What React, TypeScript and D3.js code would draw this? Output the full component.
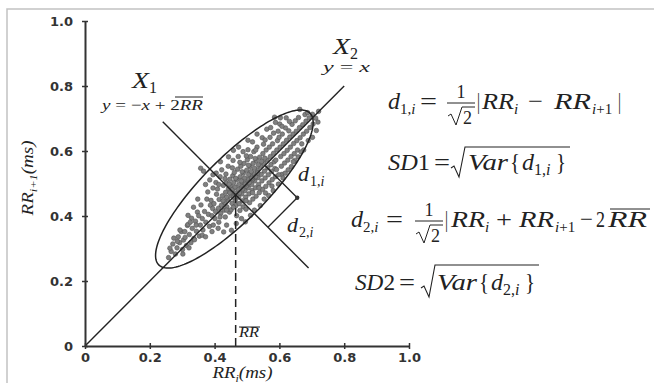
import React, { useEffect, useRef } from 'react';
import * as d3 from 'd3';

const W = 654;
const H = 383;

const xTicks = [0, 0.2, 0.4, 0.6, 0.8, 1.0];
const yTicks = [0, 0.2, 0.4, 0.6, 0.8, 1.0];

const rrMean = 0.465; // mean RR, where X1 and X2 cross
const ellipseCenter = [0.461, 0.483];
const sd1 = 0.097; // half-width across the identity line
const sd2 = 0.33; // half-length along the identity line
const x1Extent = [0.24, 0.69]; // RR_i extent of the X1 segment
const x2Extent = [0, 0.8]; // RR_i extent of the X2 segment
const samplePoint = [0.655, 0.456]; // point used for d1,i / d2,i

// [RR_i, RR_i+1]
const points: [number, number][] = [
  // lower tail
  [0.258, 0.272], [0.266, 0.291], [0.271, 0.314], [0.279, 0.283], [0.284, 0.302], [0.292, 0.318],
  [0.288, 0.336], [0.301, 0.297], [0.304, 0.326], [0.297, 0.352], [0.313, 0.309], [0.309, 0.334],
  [0.316, 0.371], [0.322, 0.343], [0.327, 0.318], [0.331, 0.362], [0.336, 0.331], [0.329, 0.393],
  [0.344, 0.353], [0.341, 0.384], [0.347, 0.412], [0.353, 0.338], [0.356, 0.372], [0.351, 0.401],
  [0.364, 0.357], [0.362, 0.392], [0.358, 0.434], [0.373, 0.381], [0.369, 0.414], [0.376, 0.452],
  [0.384, 0.368], [0.381, 0.405], [0.387, 0.433], [0.379, 0.474], [0.274, 0.332], [0.293, 0.357],
  [0.318, 0.374], [0.302, 0.283], [0.321, 0.302], [0.338, 0.327], [0.362, 0.341], [0.357, 0.547],
  [0.366, 0.538], [0.308, 0.352], [0.325, 0.381], [0.343, 0.372], [0.285, 0.322], [0.262, 0.301],
  [0.348, 0.452], [0.335, 0.427], [0.318, 0.402], [0.372, 0.336], [0.392, 0.352],
  // middle
  [0.392, 0.401], [0.394, 0.423], [0.389, 0.448], [0.396, 0.372], [0.403, 0.414], [0.398, 0.438],
  [0.406, 0.467], [0.401, 0.392], [0.404, 0.503], [0.412, 0.424], [0.414, 0.451], [0.409, 0.483],
  [0.413, 0.381], [0.417, 0.521], [0.421, 0.433], [0.424, 0.462], [0.419, 0.408], [0.427, 0.494],
  [0.422, 0.542], [0.432, 0.441], [0.434, 0.473], [0.429, 0.418], [0.436, 0.502], [0.433, 0.397],
  [0.441, 0.452], [0.443, 0.484], [0.438, 0.428], [0.447, 0.513], [0.442, 0.553], [0.446, 0.412],
  [0.452, 0.463], [0.454, 0.439], [0.449, 0.492], [0.456, 0.524], [0.451, 0.419], [0.457, 0.571],
  [0.462, 0.471], [0.464, 0.448], [0.459, 0.503], [0.466, 0.432], [0.461, 0.534], [0.468, 0.401],
  [0.472, 0.482], [0.474, 0.458], [0.469, 0.512], [0.476, 0.438], [0.471, 0.544], [0.478, 0.417],
  [0.473, 0.583], [0.482, 0.493], [0.484, 0.468], [0.479, 0.521], [0.486, 0.447], [0.481, 0.553],
  [0.488, 0.428], [0.492, 0.502], [0.494, 0.478], [0.489, 0.532], [0.496, 0.458], [0.491, 0.562],
  [0.497, 0.421], [0.502, 0.513], [0.504, 0.487], [0.499, 0.541], [0.506, 0.468], [0.501, 0.573],
  [0.508, 0.441], [0.503, 0.604], [0.512, 0.522], [0.514, 0.497], [0.509, 0.552], [0.516, 0.478],
  [0.518, 0.452], [0.511, 0.583], [0.522, 0.531], [0.524, 0.508], [0.519, 0.562], [0.526, 0.487],
  [0.528, 0.461], [0.521, 0.598], [0.532, 0.542], [0.534, 0.518], [0.529, 0.571], [0.536, 0.497],
  [0.538, 0.472], [0.531, 0.612], [0.542, 0.553], [0.544, 0.528], [0.539, 0.581], [0.546, 0.508],
  [0.548, 0.482], [0.552, 0.562], [0.554, 0.538], [0.549, 0.592], [0.556, 0.517], [0.551, 0.621],
  [0.558, 0.491], [0.562, 0.572], [0.564, 0.548], [0.559, 0.603], [0.566, 0.527], [0.568, 0.502],
  [0.572, 0.583], [0.574, 0.558], [0.569, 0.612], [0.576, 0.537], [0.571, 0.642], [0.578, 0.512],
  [0.582, 0.593], [0.584, 0.567], [0.579, 0.622], [0.586, 0.546], [0.588, 0.521],
  // middle, towards the ellipse edge
  [0.405, 0.532], [0.418, 0.567], [0.428, 0.351], [0.437, 0.372], [0.443, 0.582], [0.452, 0.356],
  [0.458, 0.602], [0.467, 0.377], [0.474, 0.612], [0.483, 0.392], [0.488, 0.598], [0.495, 0.382],
  [0.503, 0.633], [0.511, 0.402], [0.517, 0.628], [0.523, 0.418], [0.531, 0.652], [0.541, 0.432],
  [0.547, 0.641], [0.553, 0.452], [0.561, 0.667], [0.567, 0.463], [0.573, 0.672], [0.581, 0.478],
  [0.588, 0.688], [0.597, 0.498], [0.372, 0.497], [0.385, 0.511], [0.395, 0.527], [0.411, 0.362],
  [0.435, 0.529], [0.455, 0.548], [0.478, 0.565], [0.498, 0.585], [0.527, 0.603], [0.556, 0.634],
  [0.582, 0.655], [0.417, 0.397], [0.437, 0.418], [0.458, 0.427], [0.497, 0.447], [0.517, 0.472],
  [0.537, 0.487], [0.557, 0.471], [0.577, 0.492], [0.395, 0.486], [0.413, 0.497], [0.432, 0.515],
  // dense core
  [0.447, 0.471], [0.455, 0.482], [0.463, 0.489], [0.468, 0.462], [0.475, 0.497], [0.483, 0.508],
  [0.487, 0.483], [0.493, 0.517], [0.498, 0.492], [0.505, 0.528], [0.507, 0.503], [0.513, 0.537],
  [0.517, 0.512], [0.523, 0.547], [0.527, 0.521], [0.458, 0.458], [0.477, 0.471], [0.495, 0.498],
  [0.515, 0.516], [0.533, 0.533], [0.437, 0.458], [0.426, 0.447], [0.485, 0.536], [0.505, 0.556],
  [0.525, 0.577], [0.465, 0.516], [0.445, 0.498], [0.535, 0.558], [0.545, 0.568], [0.555, 0.578],
  // upper
  [0.592, 0.603], [0.594, 0.632], [0.589, 0.572], [0.596, 0.661], [0.591, 0.543], [0.602, 0.612],
  [0.604, 0.583], [0.599, 0.642], [0.606, 0.553], [0.601, 0.683], [0.612, 0.622], [0.614, 0.592],
  [0.609, 0.652], [0.616, 0.563], [0.622, 0.633], [0.624, 0.602], [0.619, 0.671], [0.626, 0.572],
  [0.621, 0.702], [0.632, 0.643], [0.634, 0.612], [0.629, 0.662], [0.636, 0.583], [0.642, 0.652],
  [0.644, 0.623], [0.639, 0.682], [0.646, 0.592], [0.652, 0.661], [0.654, 0.632], [0.649, 0.693],
  [0.656, 0.603], [0.662, 0.672], [0.664, 0.641], [0.659, 0.703], [0.672, 0.681], [0.674, 0.652],
  [0.669, 0.622], [0.682, 0.692], [0.684, 0.661], [0.679, 0.712], [0.692, 0.702], [0.694, 0.672],
  [0.702, 0.713], [0.704, 0.683], [0.712, 0.701], [0.714, 0.663], [0.721, 0.722], [0.719, 0.689],
  [0.585, 0.704], [0.663, 0.728], [0.702, 0.642], [0.608, 0.528], [0.627, 0.542], [0.687, 0.718],
  [0.603, 0.702], [0.611, 0.517], [0.618, 0.532], [0.637, 0.552], [0.648, 0.571], [0.658, 0.582],
  [0.675, 0.603], [0.689, 0.632], [0.608, 0.676], [0.631, 0.691], [0.598, 0.527], [0.643, 0.567],
  [0.667, 0.597],
];

const serif = "'Liberation Serif', 'Times New Roman', serif";
const ink = '#222';

// one piece of a formula; w stretches the glyphs to the width seen in the figure
const P = ({ x, y, w, size = 24, it = false, anchor = 'start', children }: any) => (
  <text
    x={x}
    y={y}
    fontSize={size}
    fontStyle={it ? 'italic' : 'normal'}
    textAnchor={anchor}
    textLength={w}
    lengthAdjust={w ? 'spacingAndGlyphs' : undefined}
  >
    {children}
  </text>
);

// subscript like "1,i" or "i+1"
const Sub = ({ x, y, size = 15, children }: any) => (
  <text x={x} y={y} fontSize={size}>{children}</text>
);
const I = ({ children }: any) => <tspan fontStyle="italic">{children}</tspan>;

const radical = (x0: number, top: number, bot: number, end: number) =>
  `M${x0},${bot - 9} L${x0 + 3},${bot - 11} L${x0 + 8},${bot} L${x0 + 14},${top} L${end},${top}`;

export default function App() {
  const gRef = useRef<SVGGElement>(null);

  useEffect(() => {
    if (!gRef.current) return;
    const g = d3.select(gRef.current);
    g.selectAll('*').remove();

    const x = d3.scaleLinear().domain([0, 1]).range([85, 409]);
    const y = d3.scaleLinear().domain([0, 1]).range([346, 21]);
    const fmt = (d: any) => (d === 0 ? '0' : d3.format('.1f')(d));

    // scatter
    g.append('g')
      .selectAll('circle')
      .data(points)
      .enter()
      .append('circle')
      .attr('cx', d => x(d[0]))
      .attr('cy', d => y(d[1]))
      .attr('r', 2.3)
      .attr('fill', '#808080')
      .attr('stroke', '#505050')
      .attr('stroke-width', 0.6);

    // mean RR, dashed
    g.append('line')
      .attr('x1', x(rrMean)).attr('x2', x(rrMean))
      .attr('y1', y(0)).attr('y2', y(rrMean))
      .attr('stroke', ink).attr('stroke-width', 1.5)
      .attr('stroke-dasharray', '8,5');

    // X2 : y = x
    g.append('line')
      .attr('x1', x(x2Extent[0])).attr('y1', y(x2Extent[0]))
      .attr('x2', x(x2Extent[1])).attr('y2', y(x2Extent[1]))
      .attr('stroke', ink).attr('stroke-width', 1.4);

    // X1 : y = -x + 2 mean
    g.append('line')
      .attr('x1', x(x1Extent[0])).attr('y1', y(2 * rrMean - x1Extent[0]))
      .attr('x2', x(x1Extent[1])).attr('y2', y(2 * rrMean - x1Extent[1]))
      .attr('stroke', ink).attr('stroke-width', 1.4);

    // SD1/SD2 ellipse
    const r2 = Math.SQRT1_2;
    const ell = d3.range(0, 361, 2).map(a => {
      const t = (a * Math.PI) / 180;
      const u = sd2 * Math.cos(t);
      const v = sd1 * Math.sin(t);
      return [ellipseCenter[0] + (u - v) * r2, ellipseCenter[1] + (u + v) * r2];
    });
    g.append('path')
      .attr('d', d3.line<number[]>().x(d => x(d[0])).y(d => y(d[1]))(ell))
      .attr('fill', 'none')
      .attr('stroke', ink)
      .attr('stroke-width', 1.5);

    // d1,i and d2,i
    const [px, py] = samplePoint;
    const s = (px + py) / 2;
    const k = (px + py - 2 * rrMean) / 2;
    const feet = [[s, s], [px - k, py - k]];
    feet.forEach(f => {
      g.append('line')
        .attr('x1', x(px)).attr('y1', y(py))
        .attr('x2', x(f[0])).attr('y2', y(f[1]))
        .attr('stroke', ink).attr('stroke-width', 1.3);
    });
    g.append('circle').attr('cx', x(px)).attr('cy', y(py)).attr('r', 2.2).attr('fill', '#333');

    // axes
    const xAxis = d3.axisBottom(x).tickValues(xTicks).tickFormat(fmt)
      .tickSizeInner(3).tickSizeOuter(0).tickPadding(4);
    const yAxis = d3.axisLeft(y).tickValues(yTicks).tickFormat(fmt)
      .tickSizeInner(3).tickSizeOuter(0).tickPadding(9);

    const gx = g.append('g').attr('transform', `translate(0,${y(0)})`).call(xAxis);
    const gy = g.append('g').attr('transform', `translate(${x(0)},0)`).call(yAxis);

    [gx, gy].forEach(a => {
      a.attr('font-family', "'DejaVu Sans', sans-serif").attr('font-size', 13).attr('font-weight', 'bold');
      a.select('.domain').attr('stroke', '#333').attr('stroke-width', 2);
      a.selectAll('.tick line').attr('stroke', '#333').attr('stroke-width', 1.5);
      a.selectAll('.tick text').attr('fill', '#333');
    });
    gx.selectAll('.tick line').attr('y1', -3).attr('y2', 3);
    gy.selectAll('.tick line').attr('x1', -3).attr('x2', 3);
  }, []);

  return (
    <svg width={W} height={H} style={{ position: 'absolute', left: 0, top: 0, background: '#fff' }}>
      <path d={`M7,${H} L7,9 L${W},9`} fill="none" stroke="#c2c2c2" strokeWidth={1.5} />
      <g ref={gRef} />

      <g fontFamily={serif} fill={ink}>
        {/* axis titles */}
        <text x={242.5} y={378} fontSize={16} fontStyle="italic" textAnchor="middle" textLength={60} lengthAdjust="spacingAndGlyphs">
          RR<tspan dy={4} fontSize={10}>i</tspan><tspan dy={-4}>(ms)</tspan>
        </text>
        <text transform="translate(33,178) rotate(-90)" fontSize={17} fontStyle="italic" textAnchor="middle" textLength={75} lengthAdjust="spacingAndGlyphs">
          RR<tspan dy={4} fontSize={11}>i+1</tspan><tspan dy={-4}>(ms)</tspan>
        </text>

        {/* mean RR label */}
        <P x={239} y={337} size={14} it w={20}>RR</P>
        <line x1={239} x2={260} y1={327} y2={327} stroke={ink} strokeWidth={1} />

        {/* X1 */}
        <P x={132} y={88} size={24} it w={17}>X</P>
        <Sub x={149} y={93} size={16}>1</Sub>
        <text x={102} y={110} fontSize={15} textLength={101} lengthAdjust="spacingAndGlyphs">
          <I>y</I> = −<I>x</I> + 2<I>RR</I>
        </text>
        <line x1={175} x2={203} y1={97} y2={97} stroke={ink} strokeWidth={1} />

        {/* X2 */}
        <P x={333} y={54} size={24} it w={17}>X</P>
        <Sub x={350} y={59} size={16}>2</Sub>
        <text x={323} y={72} fontSize={15} textLength={47} lengthAdjust="spacingAndGlyphs">
          <I>y</I> = <I>x</I>
        </text>

        {/* distance labels */}
        <P x={298} y={181} size={22} it w={11}>d</P>
        <Sub x={310} y={186} size={14}>1,<I>i</I></Sub>
        <P x={287} y={232} size={22} it w={11}>d</P>
        <Sub x={299} y={237} size={14}>2,<I>i</I></Sub>

        {/* d1,i formula */}
        <P x={388} y={109} it w={12}>d</P>
        <Sub x={400} y={114}>1,<I>i</I></Sub>
        <P x={420} y={109} w={17}>=</P>
        <P x={461} y={98} size={18} anchor="middle">1</P>
        <line x1={447} x2={475} y1={103} y2={103} stroke={ink} strokeWidth={1} />
        <path d={radical(448, 107, 125, 475)} fill="none" stroke={ink} strokeWidth={1} />
        <P x={463} y={124} size={18} w={9}>2</P>
        <P x={477} y={109} w={3}>|</P>
        <P x={482} y={109} it w={32}>RR</P>
        <Sub x={514} y={114} size={15}><I>i</I></Sub>
        <P x={528} y={109} w={15}>−</P>
        <P x={554} y={109} it w={37}>RR</P>
        <Sub x={592} y={114}><I>i</I>+1</Sub>
        <P x={618} y={109} w={3}>|</P>

        {/* SD1 formula */}
        <P x={388} y={170} w={42}><I>SD</I>1</P>
        <P x={434} y={170} w={16}>=</P>
        <path d={radical(451, 147, 177, 570)} fill="none" stroke={ink} strokeWidth={1.1} />
        <P x={468} y={170} it w={40}>Var</P>
        <P x={510} y={170} w={10}>{'{'}</P>
        <P x={522} y={170} it w={12}>d</P>
        <Sub x={534} y={175} size={16}>1,<I>i</I></Sub>
        <P x={556} y={170} w={10}>{'}'}</P>

        {/* d2,i formula */}
        <P x={351} y={227} it w={12}>d</P>
        <Sub x={363} y={232}>2,<I>i</I></Sub>
        <P x={386} y={227} w={17}>=</P>
        <P x={429} y={216} size={18} anchor="middle">1</P>
        <line x1={415} x2={443} y1={221} y2={221} stroke={ink} strokeWidth={1} />
        <path d={radical(416, 225, 243, 443)} fill="none" stroke={ink} strokeWidth={1} />
        <P x={431} y={242} size={18} w={9}>2</P>
        <P x={445} y={227} w={3}>|</P>
        <P x={451} y={227} it w={34}>RR</P>
        <Sub x={485} y={232}><I>i</I></Sub>
        <P x={496} y={227} w={16}>+</P>
        <P x={519} y={227} it w={35}>RR</P>
        <Sub x={555} y={232}><I>i</I>+1</Sub>
        <P x={580} y={227} w={13}>−</P>
        <P x={596} y={227} w={9}>2</P>
        <P x={608} y={227} it w={39}>RR</P>
        <line x1={610} x2={650} y1={209} y2={209} stroke={ink} strokeWidth={1} />

        {/* SD2 formula */}
        <P x={355} y={290} w={40}><I>SD</I>2</P>
        <P x={399} y={290} w={16}>=</P>
        <path d={radical(421, 265, 297, 539)} fill="none" stroke={ink} strokeWidth={1.1} />
        <P x={437} y={290} it w={40}>Var</P>
        <P x={479} y={290} w={10}>{'{'}</P>
        <P x={491} y={290} it w={12}>d</P>
        <Sub x={503} y={295} size={16}>2,<I>i</I></Sub>
        <P x={525} y={290} w={10}>{'}'}</P>
      </g>
    </svg>
  );
}
